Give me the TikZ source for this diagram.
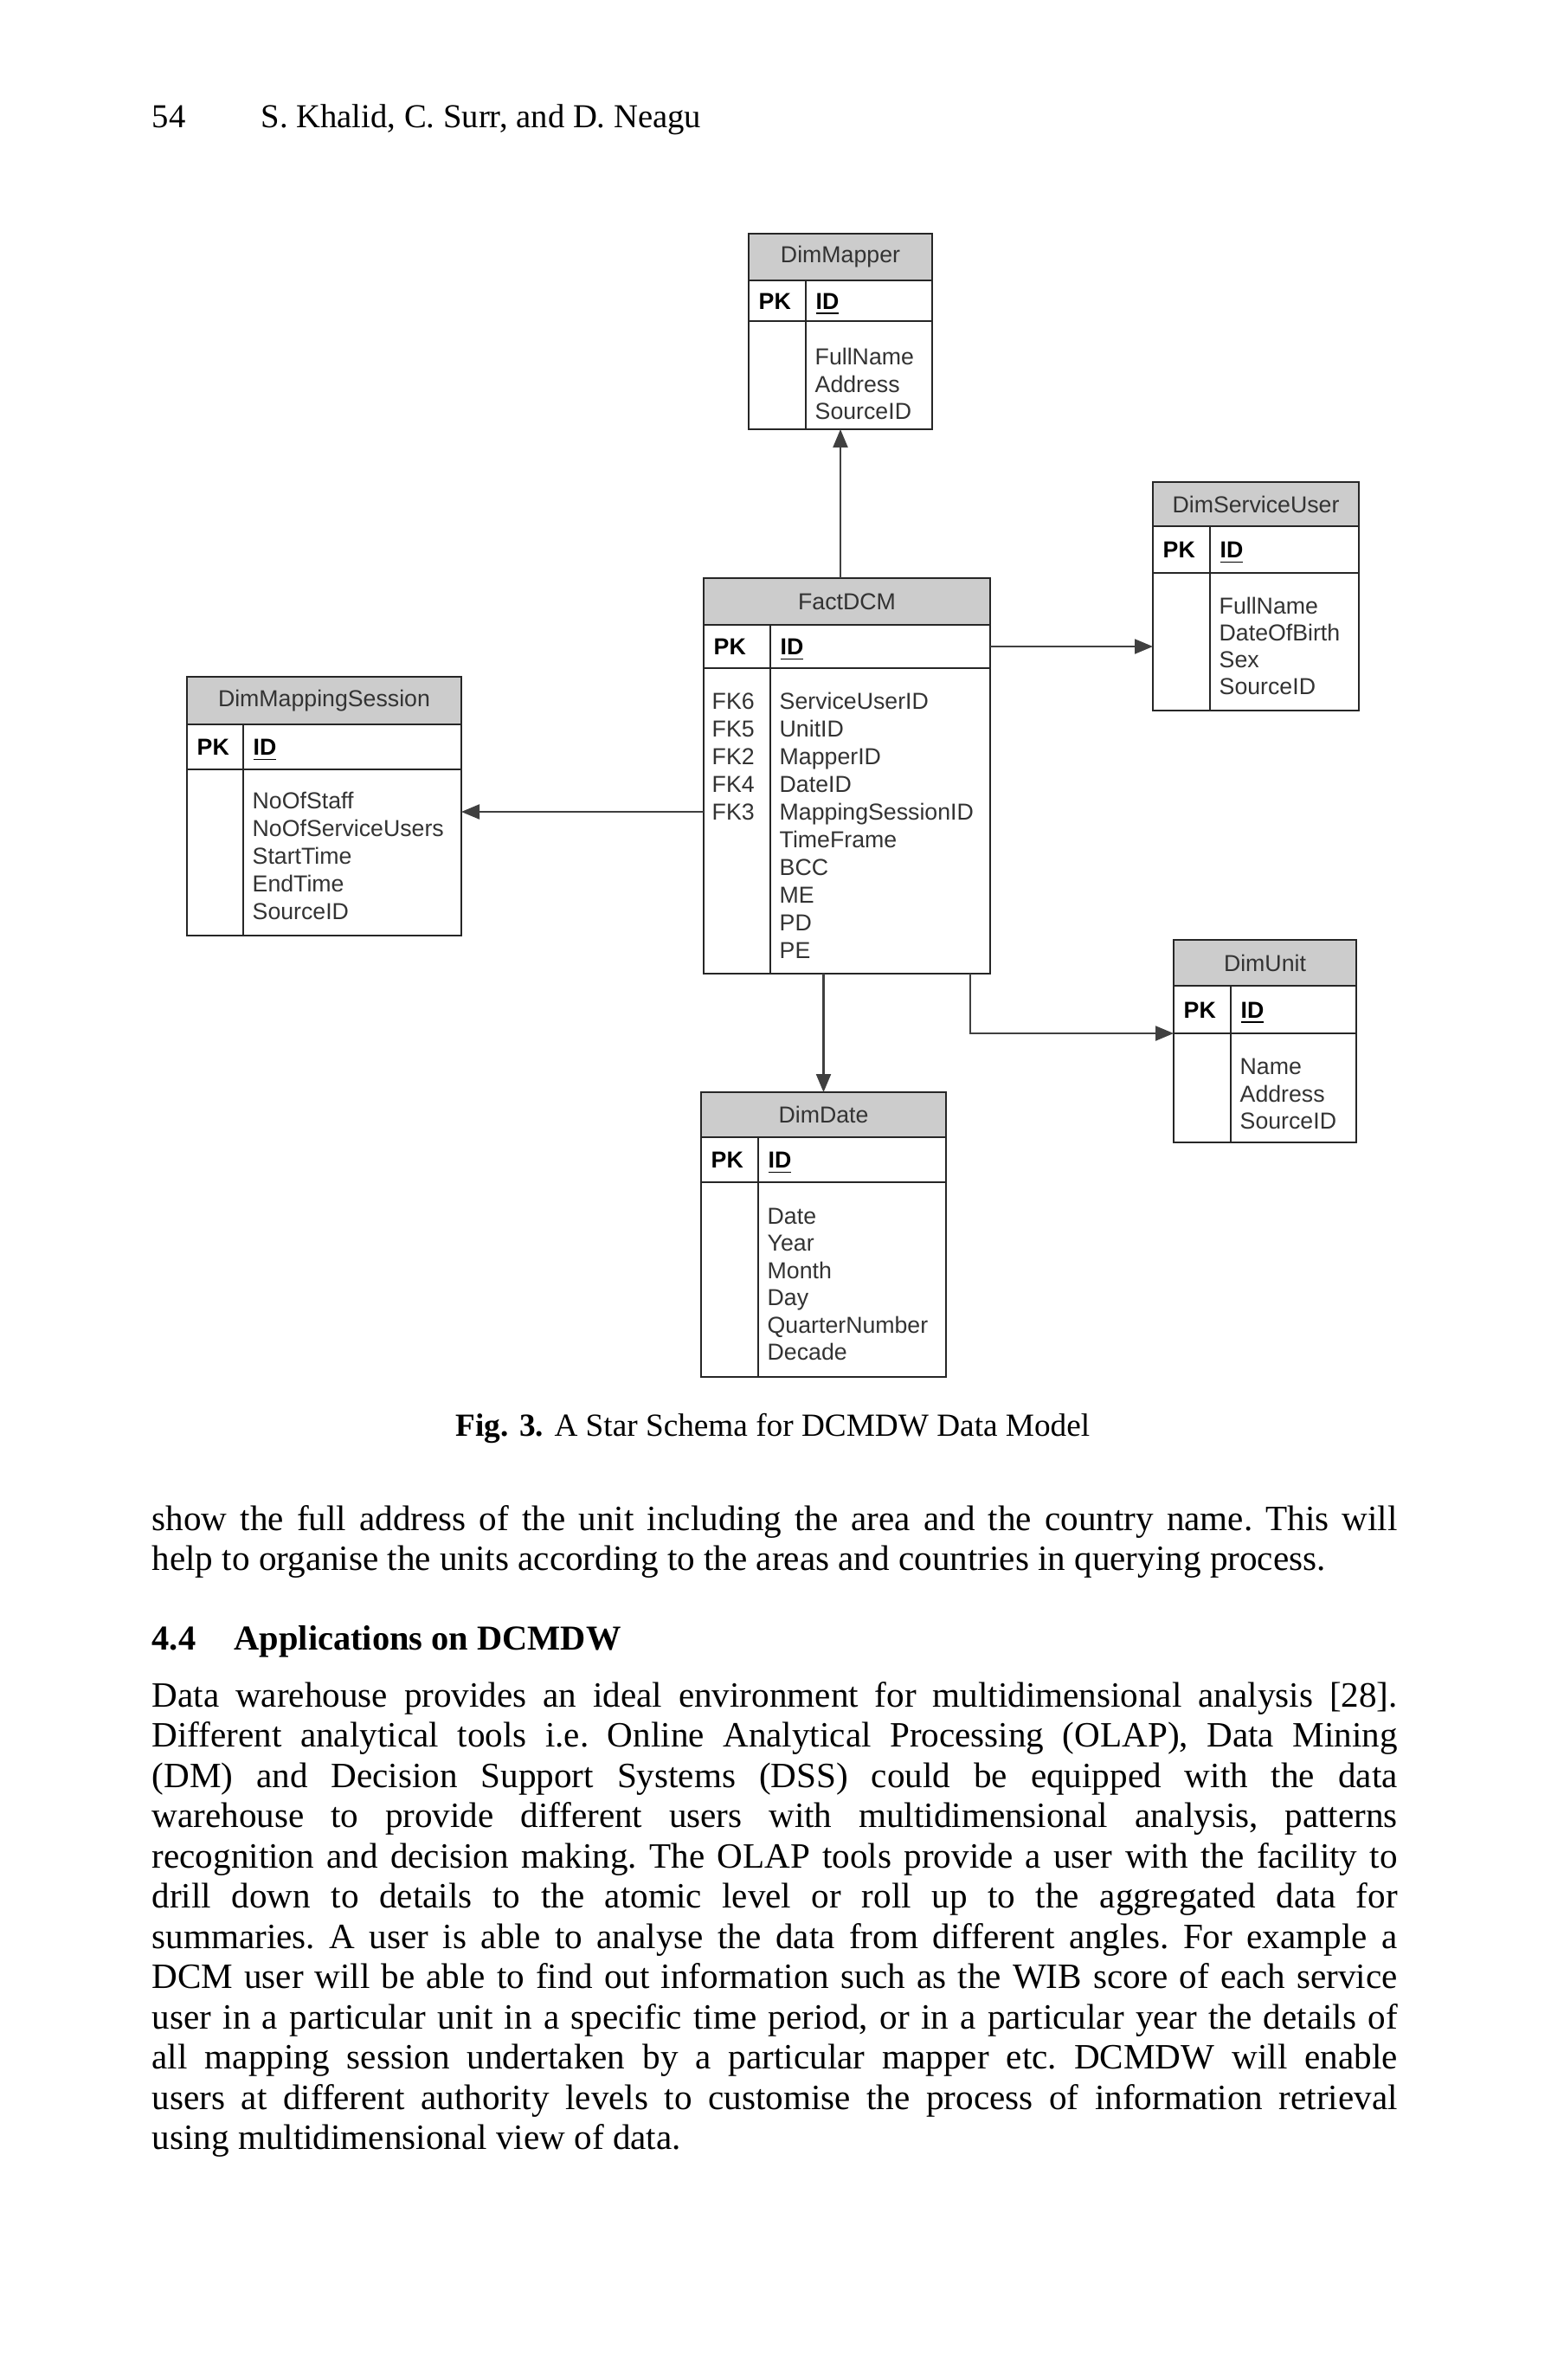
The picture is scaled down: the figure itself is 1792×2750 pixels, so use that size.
\documentclass[tikz,border=0pt]{standalone}
\usepackage{fontspec}
\setmainfont{Liberation Serif}
\setsansfont{Liberation Sans}
\usetikzlibrary{arrows.meta}
\tikzset{
	tblframe/.style = {draw=black!85, line width=0.75pt, inner sep=0pt, outer sep=0pt},
	tblline/.style = {draw=black!85, line width=0.75pt},
	tbltitle/.style = {font=\sffamily\fontsize{7.6pt}{9pt}\selectfont, text=black!80, inner sep=0pt},
	keycell/.style = {anchor=west, font=\sffamily\bfseries\fontsize{7.6pt}{9pt}\selectfont, inner sep=0pt, text height=5.4pt, text depth=0pt},
	fieldcell/.style = {anchor=west, font=\sffamily\fontsize{7.6pt}{9pt}\selectfont, text=black!80, inner sep=0pt, text height=5.4pt, text depth=0pt},
	link/.style = {draw=black!75, line width=0.6pt, -{Triangle[length=2.1mm, width=1.7mm]}},
	runhead/.style = {anchor=base west, inner sep=0pt, font=\fontsize{11pt}{13pt}\selectfont},
	bodytext/.style = {anchor=base west, inner sep=0pt, text width=143.9mm, align=justify, font=\fontsize{11.7pt}{13.23pt}\selectfont\frenchspacing},
}
\definecolor{titlegray}{gray}{0.8}

% name, left, top, right, bottom, divider, title line, pk line, title
\newcommand{\dimtable}[9]{%
	\fill[titlegray] (#2,#3) rectangle (#4,#7);
	\node[tblframe, anchor=north west, minimum width={(#4-#2)*0.1mm}, minimum height={(#5-#3)*0.1mm}] (#1) at (#2,#3) {};
	\draw[tblline] (#2,#7) -- (#4,#7) (#2,#8) -- (#4,#8) (#6,#7) -- (#6,#5);
	\coordinate (#1-pkline) at (#2,#8);
	\node[tbltitle] (#1-title) at ({(#2+#4)/2},{(#3+#7)/2}) {#9};
	\node[keycell] (#1-pk) at ({#2+11},{(#7+#8)/2}) {PK};
	\node[keycell] (#1-id) at ({#6+11},{(#7+#8)/2}) {\underline{ID}};
}

\begin{document}
\begin{tikzpicture}[x=0.1mm, y=-0.1mm]
	\fill[white] (0,0) rectangle (1792,2750);
	\useasboundingbox (0,0) rectangle (1792,2750);

	\node[runhead] (pageno) at (175,147) {54};
	\node[runhead] (authors) at (301,147) {S. Khalid, C. Surr, and D. Neagu};

	\dimtable{mapper}{865}{270}{1077}{496}{931}{324}{371}{DimMapper}
	\dimtable{suser}{1332}{557}{1570}{821}{1398}{608}{662}{DimServiceUser}
	\dimtable{fact}{813}{668}{1144}{1125}{890}{722}{772}{FactDCM}
	\dimtable{msession}{216}{782}{533}{1081}{281}{837}{889}{DimMappingSession}
	\dimtable{unit}{1356}{1086}{1567}{1320}{1422}{1139}{1194}{DimUnit}
	\dimtable{ddate}{810}{1262}{1093}{1591}{876}{1314}{1366}{DimDate}

	\foreach \f [count=\i] in {FullName,Address,SourceID}
		\node[fieldcell] (mapper-f\i) at (941,{412+31.6*(\i-1)}) {\f};
	\foreach \f [count=\i] in {FullName,DateOfBirth,Sex,SourceID}
		\node[fieldcell] (suser-f\i) at (1408,{700+31*(\i-1)}) {\f};
	\foreach \f [count=\i] in {ServiceUserID,UnitID,MapperID,DateID,MappingSessionID,TimeFrame,BCC,ME,PD,PE}
		\node[fieldcell] (fact-f\i) at (900,{810+32*(\i-1)}) {\f};
	\foreach \f [count=\i] in {FK6,FK5,FK2,FK4,FK3}
		\node[fieldcell] (fact-k\i) at (822,{810+32*(\i-1)}) {\f};
	\foreach \f [count=\i] in {NoOfStaff,NoOfServiceUsers,StartTime,EndTime,SourceID}
		\node[fieldcell] (msession-f\i) at (291,{925+32*(\i-1)}) {\f};
	\foreach \f [count=\i] in {Name,Address,SourceID}
		\node[fieldcell] (unit-f\i) at (1432,{1232+31.6*(\i-1)}) {\f};
	\foreach \f [count=\i] in {Date,Year,Month,Day,QuarterNumber,Decade}
		\node[fieldcell] (ddate-f\i) at (886,{1405+31.4*(\i-1)}) {\f};

	\draw[link] (mapper.south |- fact.north) -- (mapper.south);
	\draw[link] (fact-id -| fact.east) -- (fact-id -| suser.west);
	\draw[link] (fact-k5 -| fact.west) -- (fact-k5 -| msession.east);
	\draw[link] (ddate.north |- fact.south) -- (ddate.north);
	\draw[link] ([xshift=-2.3mm]fact.south east) -- ([xshift=-2.3mm]fact.south east |- unit-pkline) -- (unit-pkline);

	\node[anchor=base, inner sep=0pt, font=\fontsize{10.6pt}{13pt}\selectfont] (figcap) at (893,1659) {\textbf{Fig. 3.} A Star Schema for DCMDW Data Model};

	\node[bodytext] (para1) at (175,1768) {show the full address of the unit including the area and the country name. This will\linebreak help to organise the units according to the areas and countries in querying process.};

	\node[anchor=base west, inner sep=0pt, font=\bfseries\fontsize{11.5pt}{13pt}\selectfont] (sechead) at (175,1906) {4.4\hspace{1.1em}Applications on DCMDW};

	\node[bodytext] (para2) at (175,1972) {Data warehouse provides an ideal environment for multidimensional analysis [28].\linebreak
	Different analytical tools i.e. Online Analytical Processing (OLAP), Data Mining\linebreak
	(DM) and Decision Support Systems (DSS) could be equipped with the data\linebreak
	warehouse to provide different users with multidimensional analysis, patterns\linebreak
	recognition and decision making. The OLAP tools provide a user with the facility to\linebreak
	drill down to details to the atomic level or roll up to the aggregated data for\linebreak
	summaries. A user is able to analyse the data from different angles. For example a\linebreak
	DCM user will be able to find out information such as the WIB score of each service\linebreak
	user in a particular unit in a specific time period, or in a particular year the details of\linebreak
	all mapping session undertaken by a particular mapper etc. DCMDW will enable\linebreak
	users at different authority levels to customise the process of information retrieval\linebreak
	using multidimensional view of data.};
\end{tikzpicture}
\end{document}
